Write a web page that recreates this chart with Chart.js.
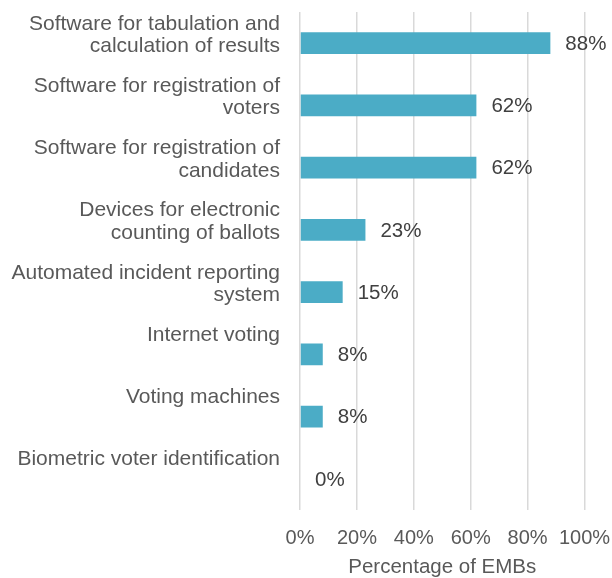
<!DOCTYPE html>
<html>
<head>
<meta charset="utf-8">
<title>Technologies used by EMBs</title>
<script src="https://cdn.jsdelivr.net/npm/chart.js@4/dist/chart.umd.min.js"></script>
<style>
    html, body { margin: 0; padding: 0; background: #ffffff; }
    #chartBox { width: 612px; height: 578px; }
</style>
</head>
<body>
<div id="chartBox"><canvas id="techChart" width="612" height="578"></canvas></div>
<script>
// ==================== DATA ====================
const categoryLines = [
    ['Software for tabulation and', 'calculation of results'],
    ['Software for registration of', 'voters'],
    ['Software for registration of', 'candidates'],
    ['Devices for electronic', 'counting of ballots'],
    ['Automated incident reporting', 'system'],
    ['Internet voting'],
    ['Voting machines'],
    ['Biometric voter identification']
];
const shareValues = [88, 62, 62, 23, 15, 8, 8, 0];
const axisTicks = [0, 20, 40, 60, 80, 100];
const axisTitle = 'Percentage of EMBs';

const FONT = 'Liberation Sans, Arial, sans-serif';
const BAR_COLOR = '#4bacc6';
const GRID_COLOR = '#d9d9d9';

// ==================== VALUE LABELS ====================
// writes "NN%" just to the right of each bar end
const barValueLabels = {
    id: 'barValueLabels',
    afterDatasetsDraw(chart) {
        const ctx = chart.ctx;
        const meta = chart.getDatasetMeta(0);
        const values = chart.data.datasets[0].data;
        ctx.save();
        ctx.font = '20.5px ' + FONT;
        ctx.fillStyle = '#404040';
        ctx.textAlign = 'left';
        ctx.textBaseline = 'middle';
        meta.data.forEach((bar, i) => {
            ctx.fillText(values[i] + '%', bar.x + 15, bar.y + 1);
        });
        ctx.restore();
    }
};

// ==================== CHART ====================
const ctx = document.getElementById('techChart');

new Chart(ctx, {
    type: 'bar',
    data: {
        labels: categoryLines,
        datasets: [{
            data: shareValues,
            backgroundColor: BAR_COLOR,
            borderWidth: 0,
            categoryPercentage: 1,
            barPercentage: 0.35
        }]
    },
    options: {
        indexAxis: 'y',
        responsive: false,
        animation: false,
        layout: { padding: { top: 12, right: 27.5, bottom: 0, left: 0 } },
        plugins: {
            legend: { display: false },
            tooltip: { enabled: false }
        },
        scales: {
            x: {
                min: 0,
                max: 100,
                afterBuildTicks: scale => {
                    scale.ticks = axisTicks.map(v => ({ value: v }));
                },
                // layout padding alone decides the right edge
                afterFit: scale => {
                    scale.height = 68;
                    scale.paddingLeft = 0;
                    scale.paddingRight = 0;
                },
                border: { display: false },
                grid: { color: GRID_COLOR, lineWidth: 1.5, drawTicks: false },
                ticks: {
                    padding: 16,
                    minRotation: 0,
                    maxRotation: 0,
                    color: '#595959',
                    font: { family: FONT, size: 20 },
                    callback: v => v + '%'
                },
                title: {
                    display: true,
                    text: axisTitle,
                    color: '#595959',
                    font: { family: FONT, size: 20.5, lineHeight: 1.0 },
                    padding: 0
                }
            },
            y: {
                // fixed label column; the tall first/last names must not push the plot edges in
                afterFit: scale => {
                    scale.width = 300;
                    scale.paddingTop = 0;
                    scale.paddingBottom = 0;
                },
                border: { display: false },
                grid: { display: false, drawTicks: false },
                ticks: {
                    autoSkip: false,
                    padding: 20,
                    labelOffset: -8,
                    color: '#595959',
                    font: { family: FONT, size: 21, lineHeight: 1.07 },
                    // one-line names get an empty second line so every name starts at the same height
                    callback: v => {
                        const lines = categoryLines[v];
                        return lines.length > 1 ? lines : [lines[0], ''];
                    }
                }
            }
        }
    },
    plugins: [barValueLabels]
});
</script>
</body>
</html>
